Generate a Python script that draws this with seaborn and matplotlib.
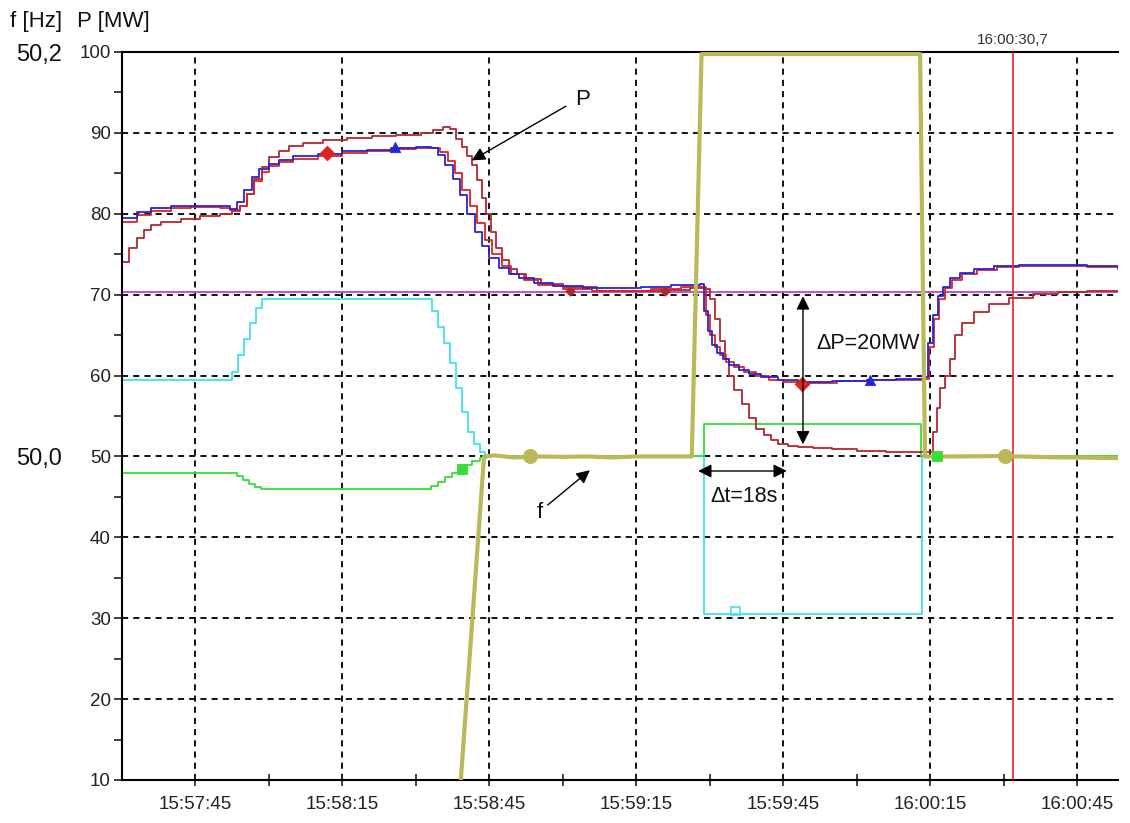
import numpy as np
import pandas as pd
import matplotlib
matplotlib.use("Agg")
import matplotlib.pyplot as plt
import seaborn as sns

# ---------------- data (time = seconds after 15:57:30) ----------------
tick_times = [15, 45, 75, 105, 135, 165, 195]
tick_labels = ["15:57:45", "15:58:15", "15:58:45", "15:59:15", "15:59:45", "16:00:15", "16:00:45"]
minor_times = [30, 60, 90, 120, 150, 180]
p_ticks = [10, 20, 30, 40, 50, 60, 70, 80, 90, 100]
f_ticks = [50.0, 50.2]
f_tick_labels = ["50,0", "50,2"]

blue_t = [0, 3, 6, 10, 14, 20, 22, 23.5, 25, 26.5, 28, 30, 32, 35, 40, 45, 50, 55, 60, 63,
          64.5, 66, 67.5, 69, 70.5, 72, 73.5, 75, 77, 79, 81, 84, 88, 94, 100, 106, 112, 118, 118.8, 119.6,
          120.4, 121.4, 122.6, 124, 126, 128, 130.5, 134, 138, 145, 152, 158, 163.5, 164.5, 165.5, 166.5,
          167.5, 169, 171, 174, 178, 183, 190, 197, 203.3]
blue_p = [79.5, 80.2, 80.7, 80.9, 81.0, 80.9, 80.6, 81.5, 83, 84.5, 85.5, 86.2, 86.7, 87.1, 87.4, 87.7,
          87.9, 88.1, 88.2, 88.1, 87.3, 86, 84.3, 82.3, 80, 77.8, 76, 74.5, 73.3, 72.5, 72, 71.5, 71.1,
          70.8, 70.8, 71, 71.2, 71.3, 68, 65.5, 63.8, 62.8, 62, 61.3, 60.7, 60.2, 59.8, 59.5, 59.2, 59.3,
          59.5, 59.6, 59.8, 64, 67.5, 69.8, 71, 72, 72.7, 73.2, 73.5, 73.7, 73.7, 73.5, 73.3]

red_t = [0, 3, 6, 10, 14, 20, 22, 24, 25.5, 27, 28.5, 30, 32, 35, 40, 45, 50, 55, 60, 63,
         65, 66.5, 68, 69.5, 71, 72.5, 74, 75.5, 77.5, 79.5, 82, 85, 90, 96, 102, 108, 114, 118.5, 119.3,
         120.1, 121.0, 122.0, 123.3, 125, 127, 129.5, 132, 135, 140, 146, 152, 158, 163.8, 164.8, 165.8,
         166.8, 168, 169.5, 171.5, 174.5, 178.5, 183, 190, 197, 203.3]
red_p = [79.0, 79.8, 80.4, 80.7, 80.8, 80.7, 80.5, 81.0, 82.5, 84.0, 85.2, 85.9, 86.4, 86.8, 87.2, 87.5,
         87.8, 88.0, 88.1, 88.1, 87.6, 86.5, 85.0, 83.0, 81.0, 78.8, 76.8, 75.0, 73.6, 72.6, 71.8, 71.2,
         70.7, 70.4, 70.5, 70.7, 70.9, 70.9, 67.5, 65.0, 63.5, 62.5, 61.7, 61.0, 60.4, 59.9, 59.5, 59.2,
         59.1, 59.3, 59.4, 59.5, 59.6, 63.5, 67.0, 69.5, 70.8, 71.8, 72.6, 73.1, 73.4, 73.6, 73.6, 73.4, 73.2]

dred_t = [0, 1.5, 3, 4.5, 6, 8, 12, 16, 20, 22.5, 24, 25.5, 27, 28.5, 30, 32, 34, 37, 41, 46, 51, 56,
          61, 63.5, 65.5, 67, 68.2, 69.3, 70.4, 71.4, 72.4, 73.4, 74.4, 75.4, 76.4, 77.6, 79, 80.6, 82.5,
          85.5, 90, 97,
          103, 110, 116, 119, 120, 121, 122, 123, 124, 125, 126.5, 128, 129.5, 131, 132.5, 134, 136, 138,
          141, 145, 150, 156, 163, 164.5, 165.5, 166.3, 167, 168, 169, 170, 171.5, 174, 177, 181, 186,
          191, 197, 203.3]
dred_p = [74.0, 75.8, 77.0, 78.0, 78.6, 79.0, 79.4, 79.7, 80.0, 80.3, 81.0, 82.5, 84.3, 85.8, 87.0,
          87.8, 88.4, 88.8, 89.1, 89.4, 89.6, 89.8,
          90.0, 90.3, 90.7, 90.5, 89.3, 88.2, 87.2, 86.0, 84.2, 82.0, 80.0, 77.8, 75.8, 74.3, 73.2, 72.5,
          71.9, 71.3, 70.9, 70.5,
          70.4, 70.6, 70.8, 70.7, 69.5, 67.0, 64.3, 62.0, 60.0, 58.2, 56.5, 54.8, 53.4, 52.6, 52.0, 51.5,
          51.3, 51.2, 51.1, 50.9, 50.7, 50.6, 50.5, 50.6, 53.0, 56.0, 58.5, 60.0, 62.0, 65.0, 66.5, 67.8,
          68.8, 69.6, 70.1, 70.3, 70.4, 70.5]

ref_t = [0, 203.3]
ref_p = [70.3, 70.3]

cyan_t = [0, 22.4, 23.7, 24.9, 26.1, 27.3, 28.6, 63.3, 64.5, 65.7, 67.0, 68.2, 69.4, 70.6, 71.8,
          73.0, 74.0, 118.8, 163.3, 203.3]
cyan_p = [59.5, 60.5, 62.5, 64.5, 66.5, 68.3, 69.5, 68.0, 66.0, 64.0, 61.5, 58.5, 55.5, 53.0, 51.5,
          50.5, 50.0, 30.5, 50.0, 50.0]

green_t = [0, 23.5, 24.7, 25.9, 27.1, 28.3, 63.0, 64.5, 66.0, 67.3, 68.6, 70.0, 71.5, 73.0, 74.2,
           118.8, 163.0, 203.3]
green_p = [48.0, 47.6, 47.1, 46.6, 46.2, 46.0, 46.4, 46.9, 47.4, 47.9, 48.4, 48.9, 49.4, 49.8, 50.0,
           54.0, 50.0, 50.0]

f_t = [67.5, 73.9, 76, 80, 85, 90, 95, 100, 105, 110, 116.3, 118.3, 162.9, 163.9, 170, 180, 190, 203.3]
f_hz = [49.784, 50.000, 50.0005, 49.9995, 50.000, 49.9998, 50.000, 49.9995, 50.000, 50.000, 50.000,
        50.199, 50.199, 50.000, 50.000, 50.0002, 49.9996, 49.9992]

cursor_t = 181.8
cursor_label = "16:00:30,7"

# markers
red_mk_t, red_mk_p = [41.8, 138.8], [87.5, 59.0]
blue_mk_t, blue_mk_p = [55.7, 152.7], [88.2, 59.5]
dred_mk_t, dred_mk_p = [91.4, 110.8], [70.4, 70.4]
cyan_mk_t, cyan_mk_p = [125.3], [30.9]
green_mk_t, green_mk_p = [69.4, 166.3], [48.5, 50.0]
f_mk_t, f_mk_hz = [83.3, 180.2], [50.000, 50.0004]


def p2f(p):
    return 50.0 + (np.asarray(p, dtype=float) - 50.0) * 0.004


def f2p(f):
    return 50.0 + (np.asarray(f, dtype=float) - 50.0) / 0.004


# ---------------- styling ----------------
sns.set_style("white")
plt.rcParams['font.family'] = ['Liberation Sans', 'DejaVu Sans']

W, H = 1130, 823
fig = plt.figure(figsize=(W / 100, H / 100), dpi=100)
L, R, T, B = 122, 1118, 52, 780
ax = fig.add_axes([L / W, 1 - B / H, (R - L) / W, (B - T) / H])

C_BLUE = "#2525d8"
C_RED = "#dd2222"
C_DRED = "#b3262e"
C_MAG = "#b845c8"
C_CYAN = "#3fe0ee"
C_GREEN = "#38dd38"
C_OLIVE = "#b9b95a"

step_kw = dict(ax=ax, estimator=None, sort=False, legend=False, drawstyle="steps-post")

sns.lineplot(x=ref_t, y=ref_p, color=C_MAG, linewidth=1.3, **step_kw)
sns.lineplot(x=cyan_t, y=cyan_p, color=C_CYAN, linewidth=1.3, **step_kw)
sns.lineplot(x=green_t, y=green_p, color=C_GREEN, linewidth=1.3, **step_kw)
sns.lineplot(x=dred_t, y=dred_p, color=C_DRED, linewidth=1.3, **step_kw)
sns.lineplot(x=red_t, y=red_p, color=C_RED, linewidth=1.3, **step_kw)
sns.lineplot(x=blue_t, y=blue_p, color=C_BLUE, linewidth=1.3, **step_kw)

ax.axvline(cursor_t, color="#e8202a", linewidth=1.2, zorder=3)

sns.lineplot(x=f_t, y=f2p(f_hz), ax=ax, estimator=None, sort=False, legend=False,
             color=C_OLIVE, linewidth=3.0, zorder=4)

# markers
sns.scatterplot(x=red_mk_t, y=red_mk_p, ax=ax, color=C_RED, marker="D", s=55, edgecolor=C_RED, zorder=5, legend=False)
sns.scatterplot(x=blue_mk_t, y=blue_mk_p, ax=ax, color=C_BLUE, marker="^", s=55, edgecolor=C_BLUE, zorder=5, legend=False)
sns.scatterplot(x=dred_mk_t, y=dred_mk_p, ax=ax, color=C_DRED, marker="D", s=25, edgecolor=C_DRED, zorder=5, legend=False)
sns.scatterplot(x=cyan_mk_t, y=cyan_mk_p, ax=ax, color="none", marker="s", s=40, edgecolor=C_CYAN, linewidth=1.2, zorder=5, legend=False)
sns.scatterplot(x=green_mk_t, y=green_mk_p, ax=ax, color=C_GREEN, marker="s", s=60, edgecolor=C_GREEN, zorder=5, legend=False)
sns.scatterplot(x=f_mk_t, y=f2p(f_mk_hz), ax=ax, color=C_OLIVE, marker="o", s=100, edgecolor=C_OLIVE, zorder=5, legend=False)

# axes limits / ticks
ax.set_xlim(0, 203.3)
ax.set_ylim(10, 100)
ax.set_xticks(tick_times)
ax.set_xticklabels(tick_labels)
ax.set_xticks(minor_times, minor=True)
ax.set_yticks(p_ticks)
ax.set_yticks([v + 5 for v in p_ticks[:-1]], minor=True)
ax.set_xlabel("")
ax.set_ylabel("")

ax.tick_params(axis="x", which="both", direction="inout", length=9, width=1.2,
               labelsize=13.5, pad=7, colors="#222222", bottom=True)
ax.tick_params(axis="y", which="both", direction="out", length=6, width=1.2,
               labelsize=13.5, pad=2, colors="#222222", left=True)

ax.grid(True, which="major", color="black", linewidth=1.3, linestyle=(0, (3.4, 2.8)))
ax.set_axisbelow(True)

for side in ["left", "bottom", "top"]:
    ax.spines[side].set_visible(True)
    ax.spines[side].set_color("black")
    ax.spines[side].set_linewidth(1.5)
ax.spines["right"].set_visible(False)

# frequency axis on the far left
fax = ax.secondary_yaxis(-0.06, functions=(p2f, f2p))
fax.set_yticks(f_ticks)
fax.set_yticklabels(f_tick_labels)
fax.tick_params(axis="y", length=0, pad=0, labelsize=17, colors="#111111")
fax.spines["left"].set_visible(False)

# unit labels
fig.text(10 / W, 1 - 22 / H, "f [Hz]", fontsize=16, va="center", ha="left", color="#111111")
fig.text(77 / W, 1 - 22 / H, "P [MW]", fontsize=16, va="center", ha="left", color="#111111")

# cursor time label
ax.text(cursor_t, 101.5, cursor_label, fontsize=11, ha="center", va="center", color="#333333", clip_on=False)

# annotations
arw = dict(arrowstyle="-|>", color="black", lw=1.0, mutation_scale=20, shrinkA=0, shrinkB=0)
dbl = dict(arrowstyle="<|-|>", color="black", lw=1.0, mutation_scale=20, shrinkA=0, shrinkB=0)

ax.annotate("", xy=(71.4, 86.6), xytext=(90.6, 93.3), arrowprops=arw, zorder=6)
ax.text(92.4, 94.1, "P", fontsize=16, ha="left", va="center", color="#111111")

ax.annotate("", xy=(95.5, 48.3), xytext=(86.9, 44.0), arrowprops=arw, zorder=6)
ax.text(84.7, 43.1, "f", fontsize=16, ha="left", va="center", color="#111111")

ax.annotate("", xy=(139.0, 69.8), xytext=(139.0, 51.5), arrowprops=dbl, zorder=6)
ax.text(141.8, 64.0, "ΔP=20MW", fontsize=15.5, ha="left", va="center", color="#111111")

ax.annotate("", xy=(117.6, 48.2), xytext=(135.7, 48.2), arrowprops=dbl, zorder=6)
ax.text(120.0, 45.0, "Δt=18s", fontsize=15.5, ha="left", va="center", color="#111111")

fig.savefig("out.png", dpi=100)
